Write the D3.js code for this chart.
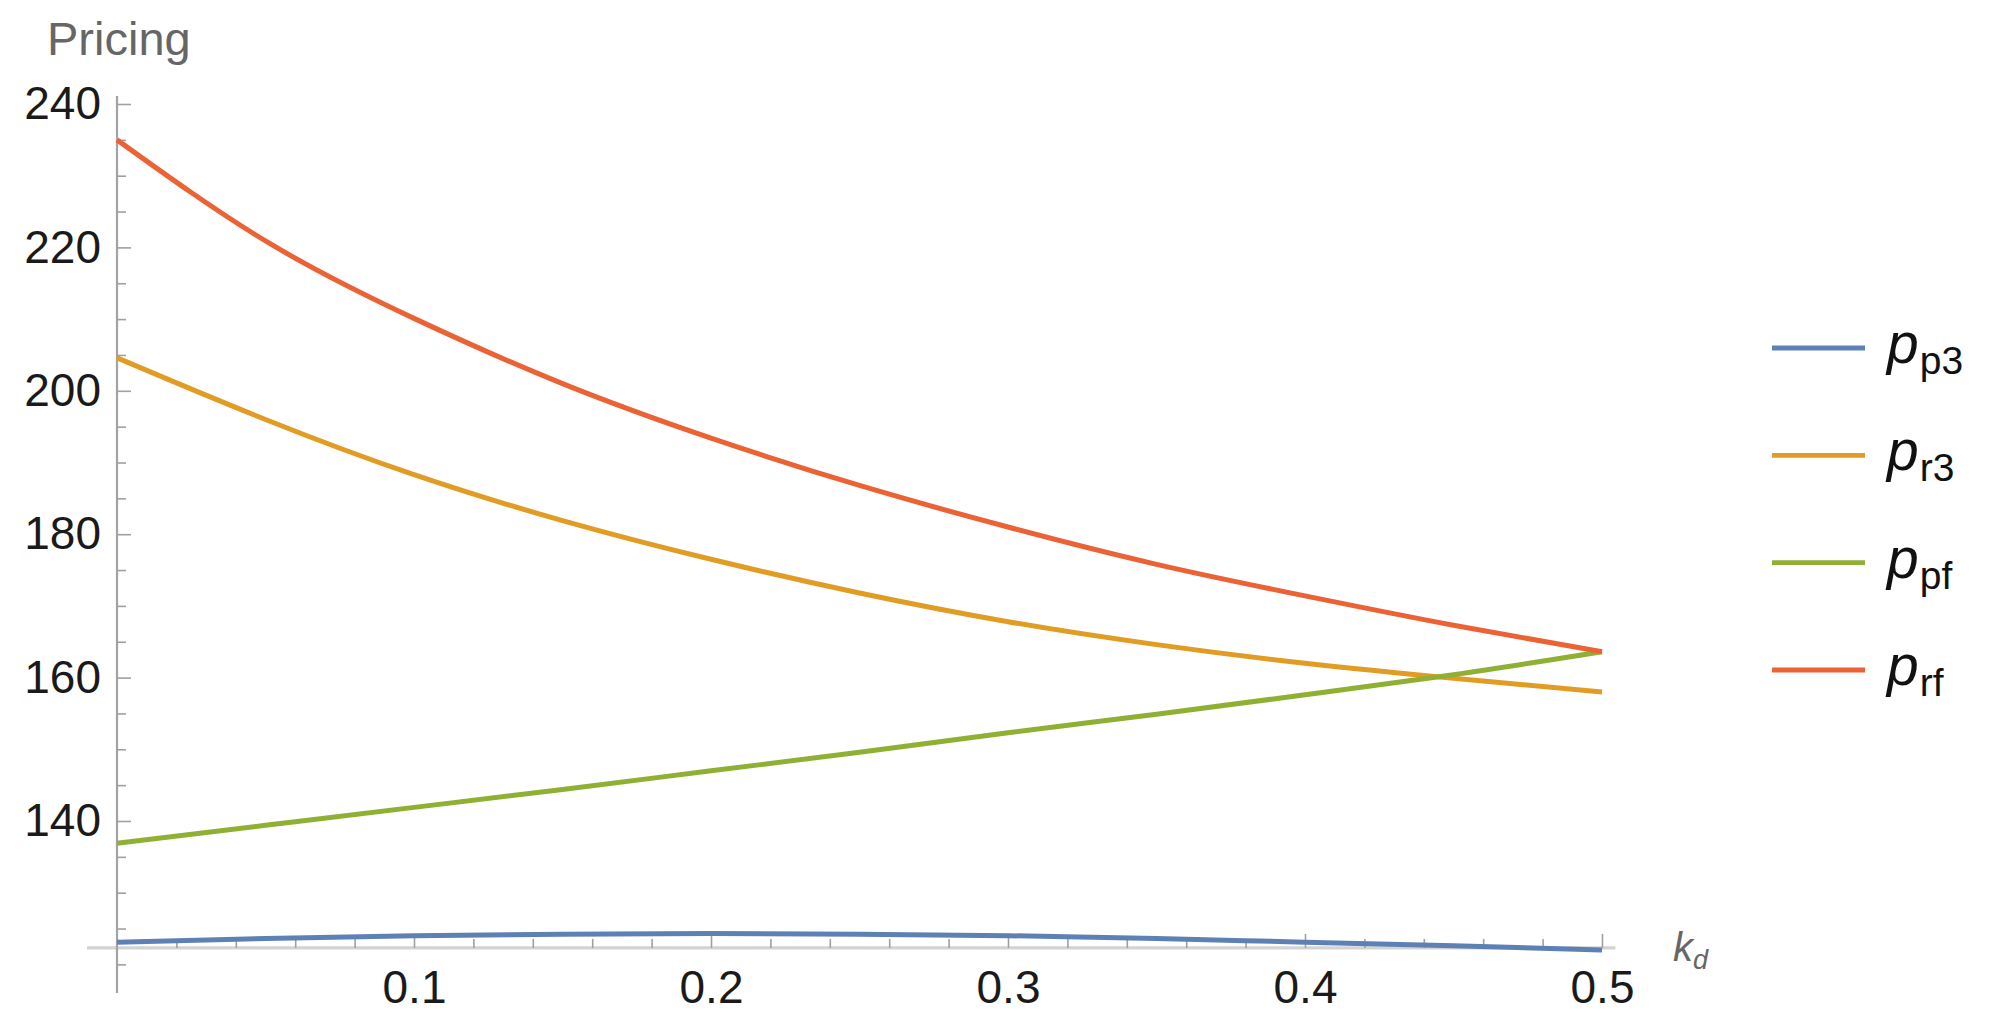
<!DOCTYPE html>
<html>
<head>
<meta charset="utf-8">
<script src="https://cdn.jsdelivr.net/npm/d3@7/dist/d3.min.js"></script>
<style>
  html, body { margin: 0; padding: 0; background: #fff; }
  svg { display: block; }
  text { font-family: "Liberation Sans", Arial, Helvetica, sans-serif; }
</style>
</head>
<body>
<svg id="chart" width="1997" height="1027"></svg>
<script>
// ---- data ----
const kd = [0, 0.05, 0.1, 0.15, 0.2, 0.25, 0.3, 0.35, 0.4, 0.45, 0.5];
const pP3 = [123.1, 123.6, 124.0, 124.2, 124.3, 124.2, 124.0, 123.6, 123.1, 122.6, 122.0];
const pR3 = [204.6, 196.0, 188.3, 181.9, 176.5, 171.8, 167.8, 164.6, 162.0, 159.9, 158.0];
const pPF = [136.9, 139.4, 141.9, 144.4, 147.0, 149.6, 152.3, 154.9, 157.6, 160.4, 163.6];
const pRF = [235.0, 220.9, 210.1, 201.0, 193.4, 186.8, 181.0, 175.8, 171.4, 167.3, 163.6];

const seriesNames = ["p3", "r3", "pf", "rf"];
const seriesValues = [pP3, pR3, pPF, pRF];
const seriesColors = ["#5E81B5", "#E19C24", "#8FB032", "#EB6235"];

const xTicksMajor = [0.1, 0.2, 0.3, 0.4, 0.5];
const yTicksMajor = [140, 160, 180, 200, 220, 240];
const yAxisTitle = "Pricing";
const xAxisTitle = "k";
const xAxisTitleSub = "d";

// ---- layout ----
const svg = d3.select("#chart");
const x = d3.scaleLinear().domain([0, 0.5]).range([117, 1602]);
const y = d3.scaleLinear().domain([120, 240]).range([964.4, 104]);
const xCross = 122.3;   // where the horizontal axis crosses the vertical one
const xMinor = d3.range(0.02, 0.5001, 0.02).map(v => +v.toFixed(2)).filter(v => !xTicksMajor.includes(v));
const yMinor = d3.range(120, 240.01, 5).filter(v => !yTicksMajor.includes(v));

// axis lines
svg.append("line")
  .attr("x1", x(-0.0101)).attr("x2", x(0.5045))
  .attr("y1", y(xCross)).attr("y2", y(xCross))
  .attr("stroke", "#d3d3d3").attr("stroke-width", 3.2);
svg.append("line")
  .attr("x1", x(0)).attr("x2", x(0))
  .attr("y1", y(241.1)).attr("y2", y(116.0))
  .attr("stroke", "#a3a3a3").attr("stroke-width", 2.2);

// y axis ticks
const yMajorG = svg.append("g").attr("transform", `translate(${x(0)},0)`)
  .call(d3.axisLeft(y).tickValues(yTicksMajor).tickSizeInner(-14).tickSizeOuter(0).tickPadding(16).tickFormat(d3.format("d")));
const yMinorG = svg.append("g").attr("transform", `translate(${x(0)},0)`)
  .call(d3.axisLeft(y).tickValues(yMinor).tickSizeInner(-9).tickSizeOuter(0).tickFormat(""));
// x axis ticks
const xMajorG = svg.append("g").attr("transform", `translate(0,${y(xCross)})`)
  .call(d3.axisBottom(x).tickValues(xTicksMajor).tickSizeInner(-14).tickSizeOuter(0).tickPadding(22).tickFormat(d3.format(".1f")));
const xMinorG = svg.append("g").attr("transform", `translate(0,${y(xCross)})`)
  .call(d3.axisBottom(x).tickValues(xMinor).tickSizeInner(-9).tickSizeOuter(0).tickFormat(""));

[yMajorG, yMinorG, xMajorG, xMinorG].forEach(g => {
  g.select(".domain").remove();
  g.selectAll(".tick line").attr("stroke", "#a0a0a0").attr("stroke-width", 1.6);
  g.selectAll(".tick text")
    .attr("fill", "#1a1a1a")
    .style("font-family", '"Liberation Sans", Arial, sans-serif')
    .style("font-size", "46px");
});

// axis titles
svg.append("text")
  .attr("x", 47).attr("y", 55)
  .attr("fill", "#666")
  .style("font-size", "47px")
  .text(yAxisTitle);

const kt = svg.append("text")
  .attr("x", 1673).attr("y", 961)
  .attr("fill", "#666");
kt.append("tspan").style("font-style", "italic").style("font-size", "40px").text(xAxisTitle);
kt.append("tspan").attr("dy", 8).style("font-style", "italic").style("font-size", "27px").text(xAxisTitleSub);

// series lines
const line = d3.line()
  .x((d, i) => x(kd[i]))
  .y(d => y(d))
  .curve(d3.curveNatural);

seriesValues.forEach((vals, i) => {
  svg.append("path")
    .datum(vals)
    .attr("d", line)
    .attr("fill", "none")
    .attr("stroke", seriesColors[i])
    .attr("stroke-width", 5)
    .attr("stroke-linecap", "butt")
    .attr("stroke-linejoin", "round");
});

// legend
const legendY = d3.scalePoint().domain(seriesNames).range([348, 670]);
const lg = svg.append("g");
seriesNames.forEach((name, i) => {
  const cy = legendY(name);
  lg.append("line")
    .attr("x1", 1772).attr("x2", 1865)
    .attr("y1", cy).attr("y2", cy)
    .attr("stroke", seriesColors[i]).attr("stroke-width", 4.8);
  const t = lg.append("text")
    .attr("x", 1887).attr("y", cy + 15)
    .attr("fill", "#111");
  t.append("tspan").style("font-style", "italic").style("font-size", "57px").text("p");
  t.append("tspan").attr("dy", 11).attr("dx", 1).style("font-size", "39px").text(name);
});
</script>
</body>
</html>
